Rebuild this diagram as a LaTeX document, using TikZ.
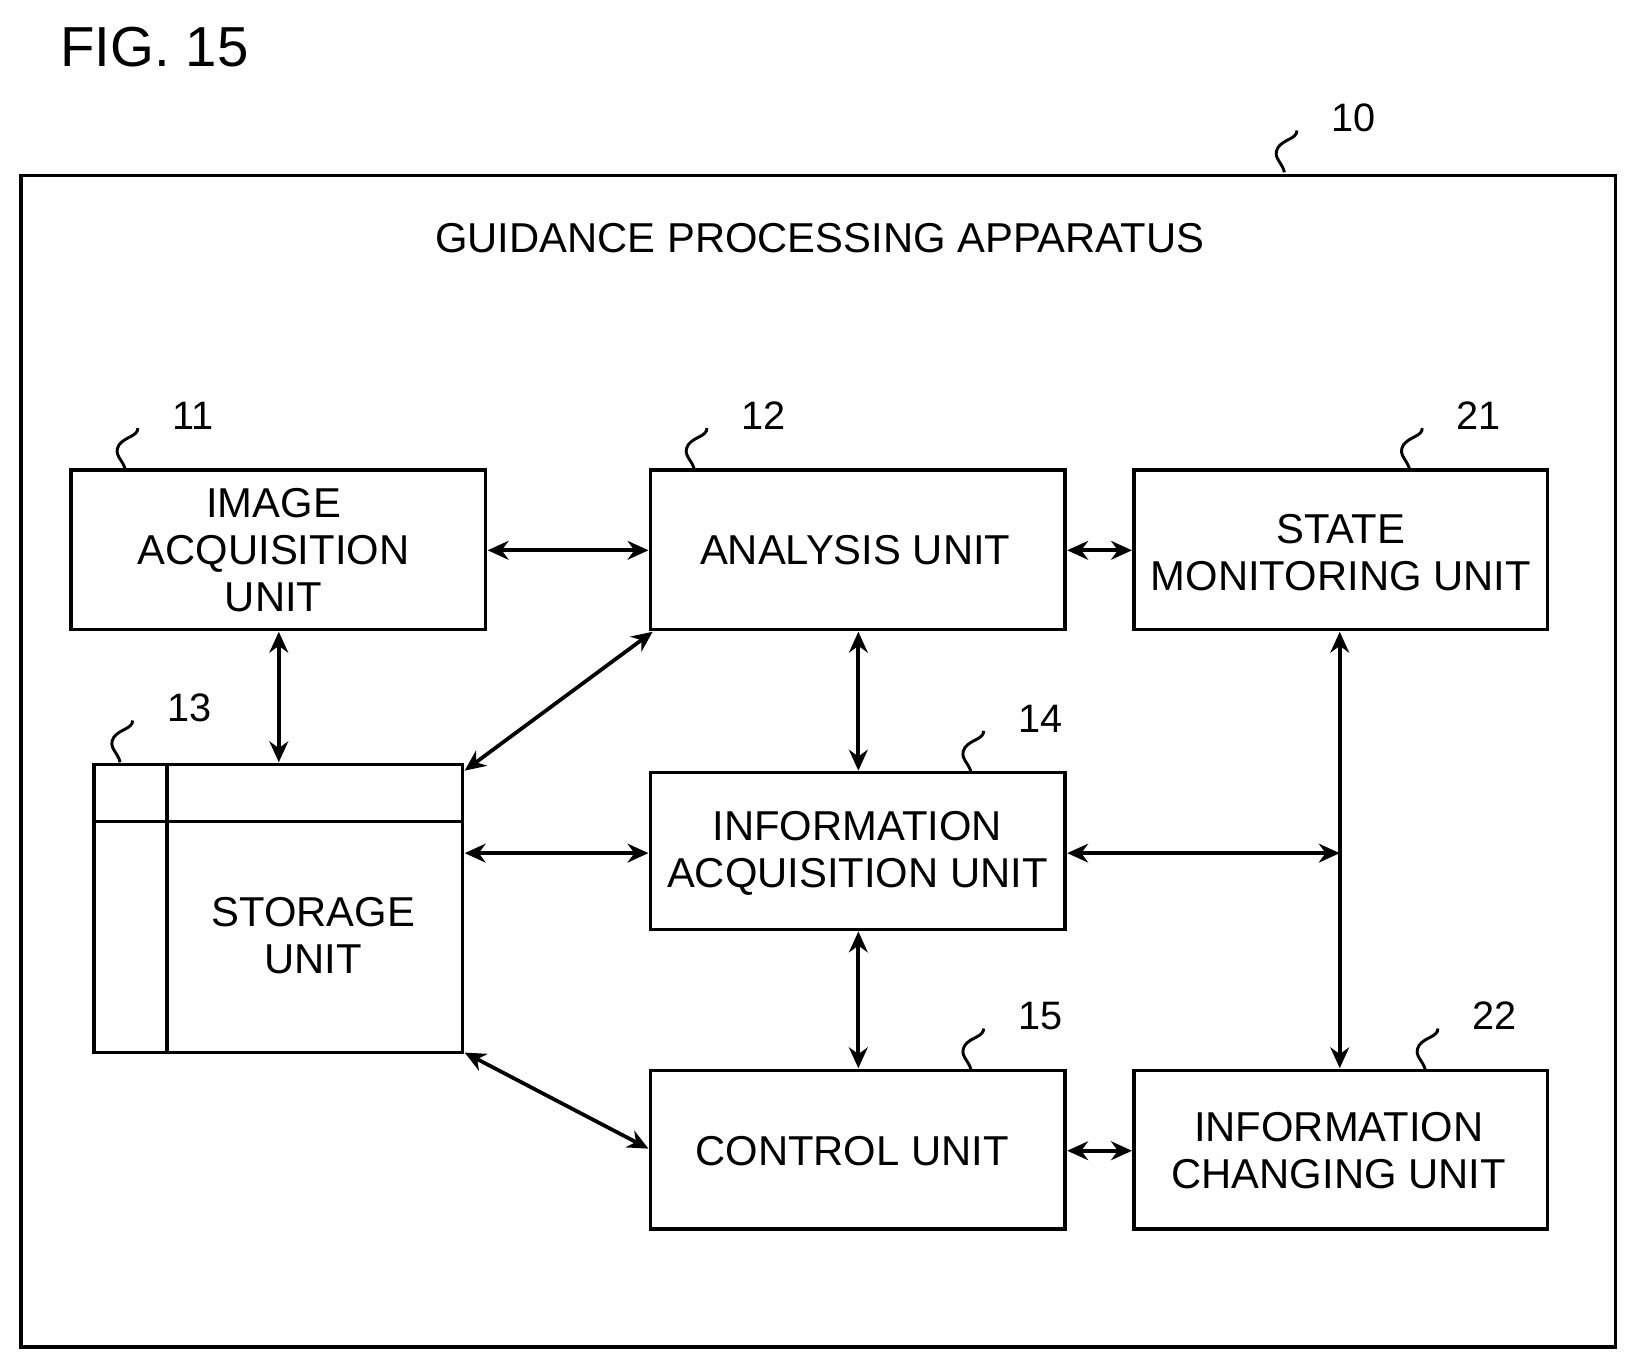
\documentclass[tikz,border=0pt]{standalone}
\usepackage{fontspec}
\setmainfont{Liberation Sans}
\usetikzlibrary{arrows.meta}
\begin{document}
\begin{tikzpicture}[x=0.5pt,y=-0.5pt,
  box/.style={draw,line width=1.6pt,inner sep=0},
  lbl/.style={font=\fontsize{20}{22.5}\selectfont,align=center},
  arr/.style={line width=1.8pt,{Stealth[length=10pt,width=9pt]}-{Stealth[length=10pt,width=9pt]}},
  num/.style={font=\fontsize{19}{20}\selectfont},
  sq/.style={line width=1.4pt}]
\useasboundingbox (0,0) rectangle (1560,1304);
\node[font=\fontsize{27}{28}\selectfont] (fig) at (148,45) {FIG. 15};
\draw[box] (20,168) rectangle (1547,1290);
\coordinate (outer) at (1230,165);
\node[lbl] (title) at (785,228) {GUIDANCE PROCESSING APPARATUS};
% boxes
\draw[box] (68,450) rectangle (465,603);
\node[lbl] (ia) at (262,527) {IMAGE\\ACQUISITION\\UNIT};
\draw[box] (623,450) rectangle (1020,603);
\node[lbl] (an) at (819,527) {ANALYSIS UNIT};
\draw[box] (1086,450) rectangle (1482,603);
\node[lbl] (sm) at (1284,529) {STATE\\MONITORING UNIT};
\draw[box] (90,732) rectangle (443,1008);
\draw[line width=1.6pt] (160,732) -- (160,1008) (90,787) -- (443,787);
\node[lbl] (st) at (300,896) {STORAGE\\UNIT};
\draw[box] (623,740) rectangle (1020,890);
\node[lbl] (inf) at (821,817) {INFORMATION\\ACQUISITION UNIT};
\draw[box] (623,1025) rectangle (1020,1177);
\node[lbl] (ct) at (816,1102) {CONTROL UNIT};
\draw[box] (1086,1025) rectangle (1482,1177);
\node[lbl] (ic) at (1282,1102) {INFORMATION\\CHANGING UNIT};
% arrows
\coordinate (j) at (1283,817);
\draw[arr] (467,527) -- (621,527);
\draw[arr] (1022,527) -- (1084,527);
\draw[arr] (267,605) -- (267,730);
\draw[arr] (625,605) -- (445,738);
\draw[arr] (822,605) -- (822,738);
\draw[arr] (445,817) -- (621,817);
\draw[arr] (1022,817) -- (j);
\draw[arr] (1283,605) -- (1283,1023);
\draw[arr] (822,892) -- (822,1023);
\draw[arr] (445,1008) -- (621,1100);
\draw[arr] (1022,1102) -- (1084,1102);
% reference numerals
\foreach \x/\y/\n/\t in {1230/165/10/n10,120/450/11/n11,665/450/12/n12,1350/450/21/n21,115/730/13/n13,930/740/14/n14,930/1025/15/n15,1365/1025/22/n22}{
  \draw[sq] (\x,\y) .. controls (\x-2,\y-10) and (\x-12,\y-14) .. (\x-6,\y-24)
     .. controls (\x,\y-32) and (\x+12,\y-32) .. (\x+12,\y-40);
  \node[num,anchor=west] (\t) at (\x+38,\y-52) {\n};
}
\end{tikzpicture}
\end{document}
